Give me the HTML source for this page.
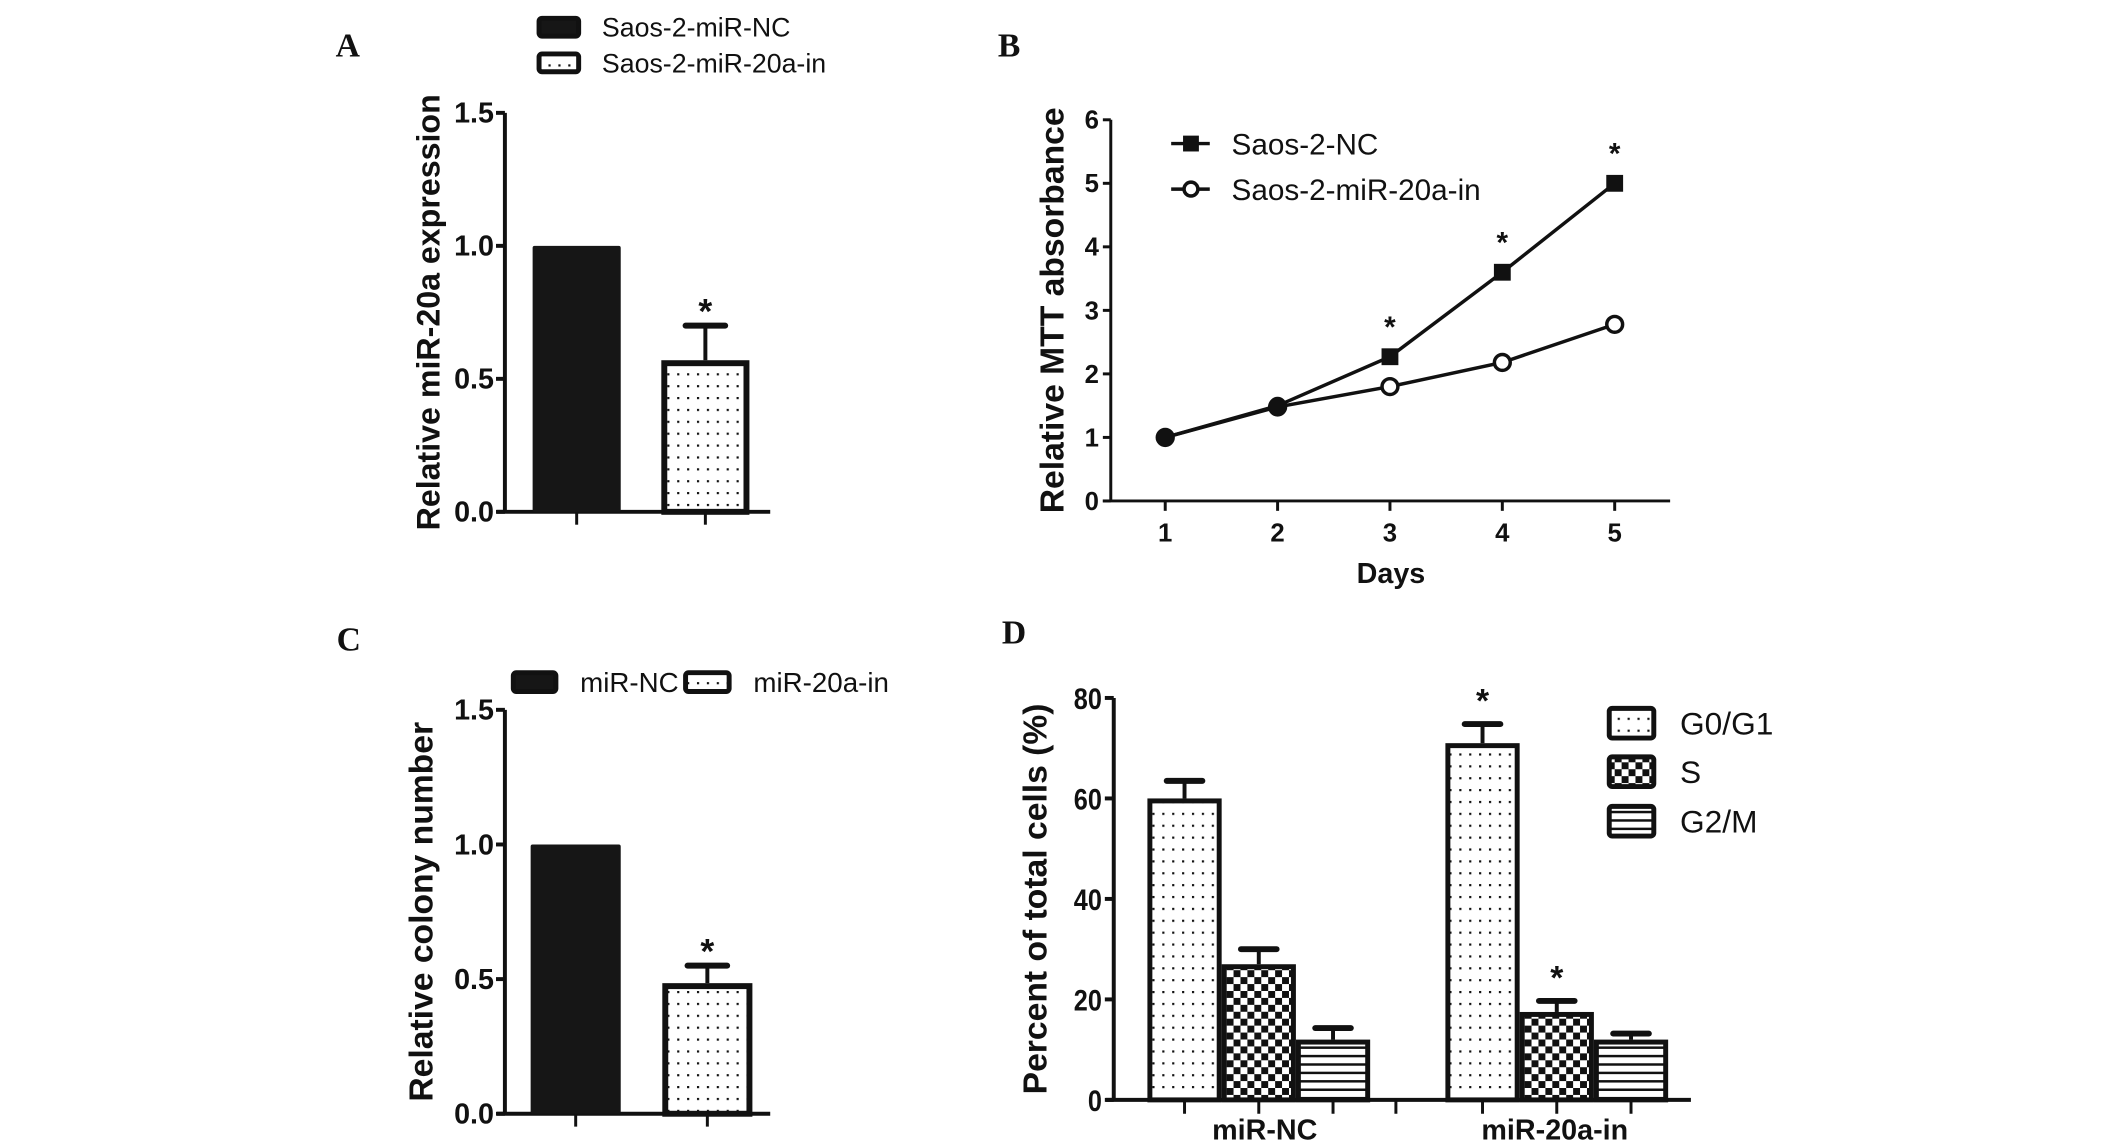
<!DOCTYPE html>
<html><head><meta charset="utf-8"><style>
html,body{margin:0;padding:0;background:#fff;overflow:hidden;}
svg{display:block;}
text{font-family:"Liberation Sans",sans-serif;fill:#111;}
.pl{font-family:"Liberation Serif",serif;font-weight:bold;font-size:34px;}
.tk{font-weight:bold;}
</style></head><body>
<svg id="fig" width="2126" height="1148" viewBox="0 0 2126 1148" xmlns="http://www.w3.org/2000/svg">
<defs>
<pattern id="dots" width="10" height="12" patternUnits="userSpaceOnUse"><rect width="10" height="12" fill="#fff"/><rect x="4" y="5" width="2.2" height="2.2" fill="#111"/></pattern>
<pattern id="check" width="14" height="14" patternUnits="userSpaceOnUse"><rect width="14" height="14" fill="#fff"/><rect width="7" height="7" fill="#111"/><rect x="7" y="7" width="7" height="7" fill="#111"/></pattern>
<pattern id="hlines" width="10" height="8.5" patternUnits="userSpaceOnUse"><rect width="10" height="8.5" fill="#fff"/><rect y="3" width="10" height="2.5" fill="#111"/></pattern>
</defs>
<g transform="scale(0.99)">
<text class="pl" x="339" y="57">A</text>
<text class="pl" x="1008" y="57">B</text>
<text class="pl" x="340" y="657">C</text>
<text class="pl" x="1012" y="650">D</text>
<g id="ga"></g>
<g id="gb"></g>
<g id="gc"></g>
<g id="gd"></g>
</g>
</svg>
<script>
// Panel A
const aCategories = ["Saos-2-miR-NC","Saos-2-miR-20a-in"];
const aValues = [1.0, 0.57];
const aErrors = [0, 0.13];
const aTicks = ["0.0","0.5","1.0","1.5"];
const aStars = [false, true];
// Panel B
const bDays = [1,2,3,4,5];
const bNC = [1.0, 1.5, 2.27, 3.6, 5.0];
const bIn = [1.0, 1.48, 1.8, 2.18, 2.78];
const bTicks = ["0","1","2","3","4","5","6"];
const bStars = [false,false,true,true,true];
// Panel C
const cCategories = ["miR-NC","miR-20a-in"];
const cValues = [1.0, 0.485];
const cErrors = [0, 0.065];
const cTicks = ["0.0","0.5","1.0","1.5"];
const cStars = [false, true];
// Panel D
const dGroups = ["miR-NC","miR-20a-in"];
const dPhases = ["G0/G1","S","G2/M"];
const dG0 = [60, 71];
const dS = [27, 17.5];
const dG2 = [12, 12];
const dErrG0 = [3.5, 3.8];
const dErrS = [3.0, 2.2];
const dErrG2 = [2.3, 1.2];
const dStarG0 = [false, true];
const dStarS = [false, true];
const dTicks = ["0","20","40","60","80"];

const NS="http://www.w3.org/2000/svg";
function mk(parent,tag,attrs,txt){const e=document.createElementNS(NS,tag);for(const k in attrs)e.setAttribute(k,attrs[k]);if(txt!==undefined)e.textContent=txt;parent.appendChild(e);return e;}

function barPanel(g,cfg,cats,vals,errs,ticks,stars,pfx){
  const y=v=>cfg.y0-(v/cfg.max)*(cfg.y0-cfg.yTop);
  let e=mk(g,'line',{x1:cfg.ax,y1:cfg.yTop,x2:cfg.ax,y2:cfg.y0,stroke:'#111','stroke-width':4});
  
  e=mk(g,'line',{x1:cfg.ax-8,y1:cfg.y0,x2:cfg.axEnd,y2:cfg.y0,stroke:'#111','stroke-width':4});
  
  ticks.forEach(t=>{const v=parseFloat(t);const yy=y(v);
    mk(g,'line',{x1:cfg.ax-9,y1:yy,x2:cfg.ax,y2:yy,stroke:'#111','stroke-width':4});
    e=mk(g,'text',{x:cfg.ax-11,y:yy+10,'text-anchor':'end','font-size':29,class:'tk'},t);
    
  });
  e=mk(g,'text',{x:0,y:0,transform:`translate(${cfg.labX},${(cfg.yTop+cfg.y0)/2}) rotate(-90)`,'text-anchor':'middle','font-size':cfg.labFs,class:'tk'},cfg.ylabel);
  
  cats.forEach((c,i)=>{
    const x0=cfg.bx[i],w=cfg.bw,top=y(vals[i]),cx=x0+w/2;
    mk(g,'line',{x1:cx,y1:cfg.y0,x2:cx,y2:cfg.y0+13,stroke:'#111','stroke-width':3});
    if(errs[i]>0){const ye=y(vals[i]+errs[i]);
      mk(g,'line',{x1:cx,y1:top,x2:cx,y2:ye,stroke:'#111','stroke-width':4});
      mk(g,'line',{x1:cx-20,y1:ye,x2:cx+20,y2:ye,stroke:'#111','stroke-width':6,'stroke-linecap':'round'});}
    let b;
    if(i==0) b=mk(g,'rect',{x:x0,y:top,width:w,height:cfg.y0-top,fill:'#161616',rx:2});
    else b=mk(g,'rect',{x:x0+3,y:top+3,width:w-6,height:cfg.y0-top-3,fill:'url(#dots)',stroke:'#111','stroke-width':6});
    
    if(stars[i]){const ys=y(vals[i]+errs[i])-14;
      e=mk(g,'text',{x:cx,y:ys+12,'text-anchor':'middle','font-size':36,class:'tk'},'*');
      }
  });
}
function legendBox(g,x,y,w,h,fill,name){
  const r=mk(g,'rect',{x:x+2.5,y:y+2.5,width:w-5,height:h-5,fill:fill,stroke:'#111','stroke-width':5,rx:3});
  
}

// A
const ga=document.getElementById('ga');
barPanel(ga,{ax:510,axEnd:778,y0:517,yTop:114,max:1.5,bx:[538,668],bw:89,labX:444,labFs:32.5,ylabel:'Relative miR-20a expression'},aCategories,aValues,aErrors,aTicks,aStars,'a');
legendBox(ga,542,16,45,23,'#161616','a-legend-swatch-nc');
legendBox(ga,542,52,45,23,'url(#dots)','a-legend-swatch-in');
let t=mk(ga,'text',{x:608,y:37,'font-size':27},aCategories[0]);
t=mk(ga,'text',{x:608,y:73,'font-size':27},aCategories[1]);

// C
const gc=document.getElementById('gc');
barPanel(gc,{ax:510,axEnd:778,y0:1125,yTop:717,max:1.5,bx:[536,669],bw:91,labX:437,labFs:34,ylabel:'Relative colony number'},cCategories,cValues,cErrors,cTicks,cStars,'c');
legendBox(gc,516,677,48,24,'#161616','c-legend-swatch-nc');
legendBox(gc,690,677,49,24,'url(#dots)','c-legend-swatch-in');
t=mk(gc,'text',{x:586,y:699,'font-size':28},cCategories[0]);
t=mk(gc,'text',{x:761,y:699,'font-size':28},cCategories[1]);

// B
const gb=document.getElementById('gb');
(function(){
  const ax=1122,y0=506,yTop=121,axEnd=1687;
  const x=d=>1177+(d-1)*(1631-1177)/4;
  const y=v=>y0-v/6*(y0-yTop);
  let e=mk(gb,'line',{x1:ax,y1:yTop,x2:ax,y2:y0,stroke:'#111','stroke-width':3});
  
  e=mk(gb,'line',{x1:ax-8,y1:y0,x2:axEnd,y2:y0,stroke:'#111','stroke-width':3});
  
  bTicks.forEach(tk=>{const yy=y(parseFloat(tk));
    mk(gb,'line',{x1:ax-8,y1:yy,x2:ax,y2:yy,stroke:'#111','stroke-width':3});
    e=mk(gb,'text',{x:ax-12,y:yy+9,'text-anchor':'end','font-size':26,class:'tk'},tk);
    });
  bDays.forEach(d=>{const xx=x(d);
    mk(gb,'line',{x1:xx,y1:y0,x2:xx,y2:y0+10,stroke:'#111','stroke-width':3});
    e=mk(gb,'text',{x:xx,y:547,'text-anchor':'middle','font-size':26,class:'tk'},String(d));
    });
  e=mk(gb,'text',{x:1405,y:589,'text-anchor':'middle','font-size':29,class:'tk'},'Days');
  
  e=mk(gb,'text',{x:0,y:0,transform:`translate(1074,${(yTop+y0)/2}) rotate(-90)`,'text-anchor':'middle','font-size':34,class:'tk'},'Relative MTT absorbance');
  
  const pIn=bDays.map((d,i)=>x(d)+','+y(bIn[i])).join(' ');
  const pNC=bDays.map((d,i)=>x(d)+','+y(bNC[i])).join(' ');
  e=mk(gb,'polyline',{points:pIn,fill:'none',stroke:'#111','stroke-width':3.5});
  
  e=mk(gb,'polyline',{points:pNC,fill:'none',stroke:'#111','stroke-width':3.5});
  
  bDays.forEach((d,i)=>{
    e=mk(gb,'circle',{cx:x(d),cy:y(bIn[i]),r:8,fill:i<2?'#111':'#fff',stroke:'#111','stroke-width':3.5});
    
    if(i<2){e=mk(gb,'circle',{cx:x(d),cy:y(bNC[i]),r:9,fill:'#111'});}
    else e=mk(gb,'rect',{x:x(d)-8.5,y:y(bNC[i])-8.5,width:17,height:17,fill:'#111'});
    
    if(bStars[i]){e=mk(gb,'text',{x:x(d),y:y(bNC[i])-20,'text-anchor':'middle','font-size':30,class:'tk'},'*');
      }
  });
  mk(gb,'line',{x1:1183,y1:145,x2:1222,y2:145,stroke:'#111','stroke-width':3.5});
  e=mk(gb,'rect',{x:1195,y:137,width:16,height:16,fill:'#111'});
  mk(gb,'line',{x1:1183,y1:191,x2:1222,y2:191,stroke:'#111','stroke-width':3.5});
  e=mk(gb,'circle',{cx:1203,cy:191,r:7,fill:'#fff',stroke:'#111','stroke-width':3.5});
  e=mk(gb,'text',{x:1244,y:156,'font-size':30},'Saos-2-NC');
  e=mk(gb,'text',{x:1244,y:202,'font-size':30},'Saos-2-miR-20a-in');
})();

// D
const gd=document.getElementById('gd');
(function(){
  const ax=1125,y0=1111,yTop=705,axEnd=1708;
  const y=v=>y0-v/80*(y0-yTop);
  const groupX=[1159,1460], bw=75;
  let e=mk(gd,'line',{x1:ax,y1:yTop,x2:ax,y2:y0,stroke:'#111','stroke-width':4});
  
  e=mk(gd,'line',{x1:ax-8,y1:y0,x2:axEnd,y2:y0,stroke:'#111','stroke-width':4});
  
  dTicks.forEach(tk=>{const yy=y(parseFloat(tk));
    mk(gd,'line',{x1:ax-9,y1:yy,x2:ax,y2:yy,stroke:'#111','stroke-width':4});
    e=mk(gd,'text',{x:ax-12,y:yy+11,'text-anchor':'end','font-size':30,class:'tk',transform:`translate(${(ax-12)*0.15},0) scale(0.85,1)`},tk);
    });
  e=mk(gd,'text',{x:0,y:0,transform:`translate(1057,${(yTop+y0)/2}) rotate(-90)`,'text-anchor':'middle','font-size':34,class:'tk'},'Percent of total cells (%)');
  
  const series=[[dG0,dErrG0,'url(#dots)',dStarG0],[dS,dErrS,'url(#check)',dStarS],[dG2,dErrG2,'url(#hlines)',[false,false]]];
  dGroups.forEach((gname,gi)=>{
    series.forEach((s,si)=>{
      const x0=groupX[gi]+si*bw,top=y(s[0][gi]),cx=x0+bw/2,ye=y(s[0][gi]+s[1][gi]);
      mk(gd,'line',{x1:cx,y1:y0,x2:cx,y2:y0+14,stroke:'#111','stroke-width':3});
      mk(gd,'line',{x1:cx,y1:top,x2:cx,y2:ye,stroke:'#111','stroke-width':4});
      mk(gd,'line',{x1:cx-18,y1:ye,x2:cx+18,y2:ye,stroke:'#111','stroke-width':6,'stroke-linecap':'round'});
      e=mk(gd,'rect',{x:x0+2.5,y:top+2.5,width:bw-5,height:y0-top-2.5,fill:s[2],stroke:'#111','stroke-width':5});
      
      if(s[3][gi]){e=mk(gd,'text',{x:cx,y:ye-12,'text-anchor':'middle','font-size':34,class:'tk'},'*');
        }
    });
    e=mk(gd,'text',{x:groupX[gi]+bw*1.5+(gi?-2:6),y:1151,'text-anchor':'middle','font-size':29,class:'tk'},gname);
    
  });
  mk(gd,'line',{x1:1410,y1:y0,x2:1410,y2:y0+14,stroke:'#111','stroke-width':3});
  const ly=[713,762,812],fills=['url(#dots)','url(#check)','url(#hlines)'];
  dPhases.forEach((p,i)=>{
    legendBox(gd,1623,ly[i],50,35,fills[i],'d-legend-swatch-'+(i+1));
    e=mk(gd,'text',{x:1697,y:ly[i]+29,'font-size':32},p);
    
  });
})();
</script>
</body></html>
